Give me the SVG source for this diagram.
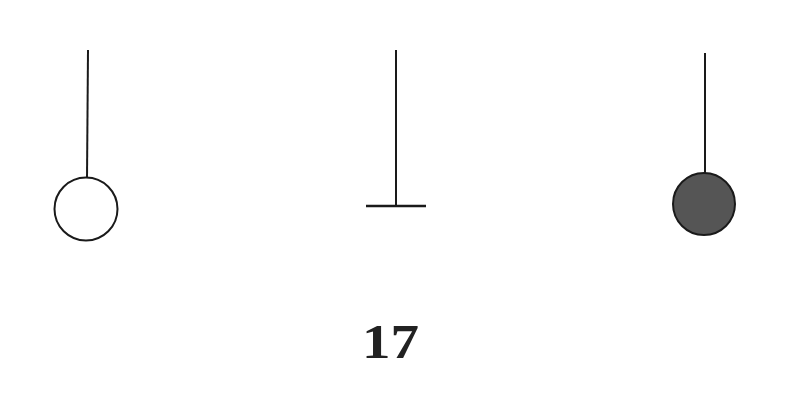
<svg xmlns="http://www.w3.org/2000/svg" width="792" height="408" viewBox="0 0 792 408">
<style>
.ln{stroke:#1a1a1a;stroke-width:2;fill:none}
.open{fill:#ffffff;stroke:#1a1a1a;stroke-width:2}
.solid{fill:#555555;stroke:#1a1a1a;stroke-width:2}
.lbl{font-family:"Liberation Serif","DejaVu Serif",serif;font-weight:bold;font-size:48px;fill:#222222}
</style>
<rect width="792" height="408" fill="#ffffff"/>
<g id="connectors">
<line class="ln" x1="88" y1="50" x2="87" y2="178"/>
<line class="ln" x1="396" y1="50" x2="396" y2="206"/>
<line class="ln" x1="705" y1="53" x2="705" y2="173"/>
</g>
<g id="open-circle">
<circle class="open" cx="86" cy="209" r="31.5"/>
</g>
<g id="bar-end">
<line class="ln" x1="366" y1="206" x2="426" y2="206" style="stroke-width:2.5"/>
</g>
<g id="filled-circle">
<circle class="solid" cx="704" cy="204" r="31"/>
</g>
<text class="lbl" x="362" y="358" textLength="57" lengthAdjust="spacingAndGlyphs">17</text>
</svg>
